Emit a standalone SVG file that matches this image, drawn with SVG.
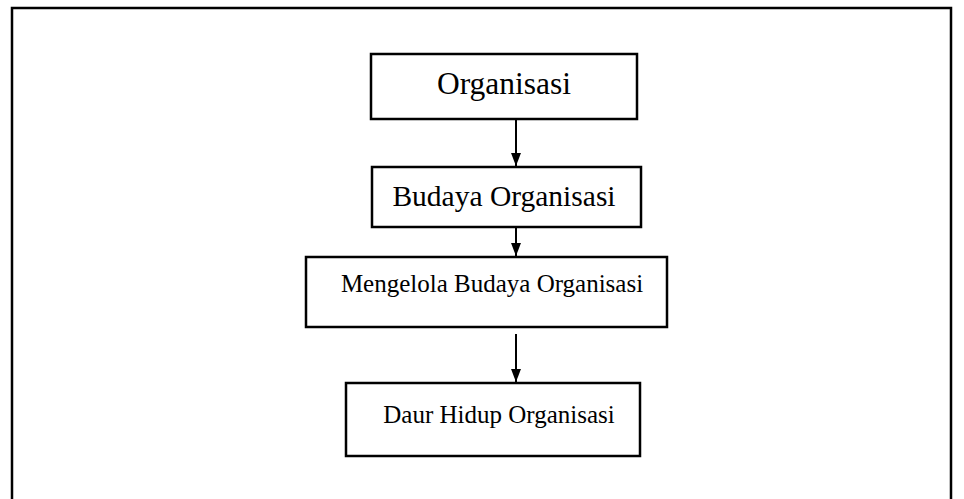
<svg xmlns="http://www.w3.org/2000/svg" width="964" height="499" viewBox="0 0 964 499">
<defs>
<style>
.box{fill:#fff;stroke:#000;stroke-width:2.5}
.t{font-family:"Liberation Serif","Times New Roman",serif;font-size:25px;fill:#000;text-anchor:middle}
.c{stroke:#000;stroke-width:2;fill:none}
.frame{stroke:#000;stroke-width:2.5;fill:none}
</style>
<marker id="ah" markerWidth="13" markerHeight="17" refX="17" refY="6.5" orient="auto" markerUnits="userSpaceOnUse" viewBox="0 0 17 13">
<path d="M0,0 L17,6.5 L0,13 Z" fill="#000"/>
</marker>
</defs>
<rect width="964" height="499" fill="#fff"/>
<path class="frame" d="M12,499 V8 H951 V499"/>
<g id="n1"><rect class="box" x="371" y="54" width="266" height="65"/><text class="t" x="504" y="94" style="font-size:31.5px">Organisasi</text></g>
<g id="n2"><rect class="box" x="372" y="167" width="269" height="60"/><text class="t" x="504" y="206" style="font-size:29.5px">Budaya Organisasi</text></g>
<g id="n3"><rect class="box" x="306" y="257" width="361" height="70"/><text class="t" x="492" y="292">Mengelola Budaya Organisasi</text></g>
<g id="n4"><rect class="box" x="346" y="383" width="294" height="73"/><text class="t" x="499" y="423">Daur Hidup Organisasi</text></g>
<g id="connectors">
<line class="c" x1="516" y1="119" x2="516" y2="166" marker-end="url(#ah)"/>
<line class="c" x1="516" y1="227" x2="516" y2="256" marker-end="url(#ah)"/>
<line class="c" x1="516" y1="334" x2="516" y2="382" marker-end="url(#ah)"/>
</g>
</svg>
